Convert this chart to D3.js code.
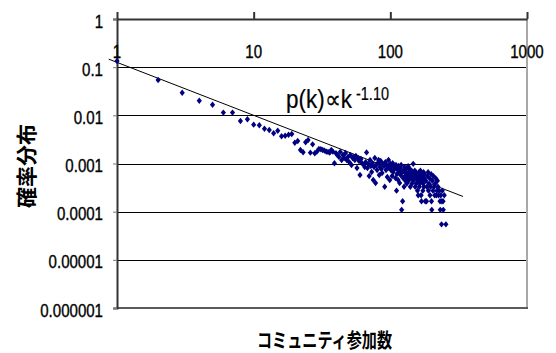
<!DOCTYPE html>
<html>
<head>
<meta charset="utf-8">
<script src="https://cdn.jsdelivr.net/npm/d3@7"></script>
<style>
  html, body { margin: 0; padding: 0; background: #fff; }
  svg { display: block; }
</style>
</head>
<body>
<svg id="chart" width="556" height="353"></svg>
<script>
// Community participation count k and its probability p(k)
const degree = [
  1,2,3,4,5,6,7,8,9,10,11,12,13,14,15,16,17,18,19,20,
  21,22,23,24,25,26,27,28,29,30,31,32,33,34,35,36,37,38,39,40,
  41,42,43,44,45,46,47,48,49,50,51,52,53,54,55,56,57,58,59,60,
  61,62,64,65,66,67,68,69,70,71,72,73,74,75,76,77,78,79,80,
  81,82,83,84,85,86,87,88,90,91,92,93,94,95,96,97,98,99,100,
  101,102,103,104,105,106,108,109,110,111,112,113,114,115,116,117,118,119,120,
  121,122,123,124,125,126,127,128,129,130,131,132,133,134,135,136,137,138,139,140,
  141,142,143,144,145,146,147,148,149,150,151,152,153,154,155,156,157,158,159,160,
  161,162,163,164,165,166,167,168,169,170,171,172,173,174,175,176,177,178,180,
  182,184,185,187,189,190,192,194,195,197,199,200,201,203,205,207,209,211,213,215,
  217,219,221,223,225,228,231,232,234,237,238,240,243,244,248,255
];
const prob = [
  0.134,0.0542,0.0295,0.0201,0.0166,0.0114,0.0114,0.00763,0.00828,0.0064,
  0.00621,0.00528,0.00496,0.00424,0.0048,0.00367,0.00378,0.00396,0.0041,0.0027,
  0.00293,0.00191,0.00171,0.00276,0.00308,0.00168,0.0025,0.00163,0.00176,0.002,
  0.00198,0.00191,0.00185,0.00176,0.00174,0.00168,0.00191,0.00176,0.00101,0.00163,
  0.0015,0.00138,0.00174,0.00118,0.0015,0.0013,0.00165,0.00118,0.00137,0.00107,
  0.0015,0.000931,0.0013,0.00137,0.00118,0.00143,0.000807,0.0013,0.00113,0.000577,
  0.00124,0.00102,0.000931,0.000847,0.00107,0.0017,0.000807,0.000977,0.00055,
  0.00118,0.000888,0.000667,0.00102,0.000455,0.000847,0.0013,0.000394,0.000931,0.000733,
  0.00102,0.00118,0.000577,0.000847,0.00113,0.000769,0.000636,0.000977,0.000888,0.000328,
  0.00107,0.000733,0.000931,0.000525,0.000807,0.00118,0.000888,0.000455,0.000977,
  0.000733,0.000847,0.00055,0.00102,0.000667,0.000888,0.000807,0.0005,0.000931,0.000273,
  0.000606,0.000769,0.000455,0.000888,0.000699,0.000394,0.000807,0.000577,0.000931,
  0.000109,0.000667,0.000164,0.0005,0.000733,0.000328,0.000847,0.00055,0.000437,0.000656,
  0.000765,0.000383,0.000601,0.000492,0.000874,0.000437,0.000656,0.000546,0.000765,0.000328,
  0.000601,0.000492,0.00071,0.000383,0.000546,0.000656,0.000984,0.000437,0.000601,0.000492,
  0.00071,0.000328,0.000546,0.000656,0.000383,0.000492,0.000601,0.000273,0.000546,0.000219,
  0.000437,0.000656,0.000328,0.000546,0.000383,0.00071,0.000492,0.000219,0.000164,0.000601,
  0.000437,0.000546,0.000273,0.000383,0.000656,0.000328,0.000492,0.000601,0.000164,
  0.000437,0.000164,0.000328,0.000546,0.000656,0.000273,0.000383,0.000492,0.000219,0.000328,
  0.000601,0.000164,0.000109,0.000437,0.000273,0.000546,0.000328,0.000219,0.000383,0.000492,
  0.000219,0.000273,0.000437,0.000328,0.000219,0.000273,0.000164,0.000109,0.000219,0.0000546,
  0.000164,0.000273,0.000164,0.000109,0.000219,0.0000546
];

// Axis ticks and labels
const xTicks = [1, 10, 100, 1000];
const xTickLabels = ["1", "10", "100", "1000"];
const yTicks = [1, 0.1, 0.01, 0.001, 0.0001, 0.00001, 0.000001];
const yTickLabels = ["1", "0.1", "0.01", "0.001", "0.0001", "0.00001", "0.000001"];

// Power-law fit p(k) ∝ k^-1.10
const fitExponent = -1.10;
const fitCoef = 0.1259;
const fitRange = [0.87, 340];

const yTitle = "確率分布";
const xTitle = "コミュニティ参加数";
const fitLabel = "p(k)∝k";
const fitLabelSup = "-1.10";

const svg = d3.select("#chart");
const plotL = 117, plotR = 527, plotT = 19, plotB = 308;
const latin = "'Liberation Sans', Arial, sans-serif";
const cjk = "'Noto Sans CJK JP', sans-serif";

const x = d3.scaleLog().domain([1, 1000]).range([plotL, plotR]);
const y = d3.scaleLog().domain([1e-6, 1]).range([plotB, plotT]);

// Narrow the glyphs horizontally like a condensed face
function squeeze(sel, factor) {
  sel.each(function () {
    const w = this.getComputedTextLength();
    d3.select(this).attr("textLength", w * factor).attr("lengthAdjust", "spacingAndGlyphs");
  });
}

// Horizontal gridlines
svg.append("g")
  .selectAll("line")
  .data(yTicks.slice(1, -1))
  .join("line")
  .attr("x1", plotL).attr("x2", plotR)
  .attr("y1", d => Math.round(y(d)) + 0.5).attr("y2", d => Math.round(y(d)) + 0.5)
  .attr("stroke", "#000").attr("stroke-width", 1);

// Plot frame: right and bottom edges
svg.append("line").attr("x1", plotR).attr("x2", plotR).attr("y1", plotT).attr("y2", plotB + 1)
  .attr("stroke", "#a8a8a8").attr("stroke-width", 2);
svg.append("line").attr("x1", plotL).attr("x2", plotR + 1).attr("y1", plotB).attr("y2", plotB)
  .attr("stroke", "#5a5a5a").attr("stroke-width", 2);

// Y axis on the left
const yAxis = d3.axisLeft(y).tickValues(yTicks).tickSize(4).tickFormat("");
const gy = svg.append("g").attr("transform", `translate(${plotL},0)`).call(yAxis);
gy.select(".domain").attr("stroke", "#333").attr("stroke-width", 2);
gy.selectAll(".tick line").attr("stroke", "#777");

// X axis along the top
const xAxis = d3.axisTop(x).tickValues(xTicks).tickSize(7).tickSizeOuter(0).tickFormat("");
const gx = svg.append("g").attr("transform", `translate(0,${plotT})`).call(xAxis);
gx.select(".domain").attr("stroke", "#333").attr("stroke-width", 2);
gx.selectAll(".tick line").attr("stroke", "#333").attr("stroke-width", 2);

// Tick labels
const yl = svg.append("g").selectAll("text")
  .data(yTicks)
  .join("text")
  .attr("x", 103)
  .attr("y", d => y(d) + 8.5)
  .attr("text-anchor", "end")
  .attr("font-family", latin)
  .attr("font-size", 17.5)
  .attr("fill", "#000")
  .attr("stroke", "#000").attr("stroke-width", 0.35)
  .text((d, i) => yTickLabels[i]);
squeeze(yl, 0.86);

const xl = svg.append("g").selectAll("text")
  .data(xTicks)
  .join("text")
  .attr("x", d => x(d))
  .attr("y", 57.5)
  .attr("text-anchor", "middle")
  .attr("font-family", latin)
  .attr("font-size", 17.5)
  .attr("fill", "#000")
  .attr("stroke", "#000").attr("stroke-width", 0.35)
  .text((d, i) => xTickLabels[i]);
squeeze(xl, 0.86);

// Fitted power-law line
const fitLine = d3.line().x(d => x(d)).y(d => y(fitCoef * Math.pow(d, fitExponent)));
svg.append("path")
  .datum(fitRange)
  .attr("d", fitLine)
  .attr("fill", "none")
  .attr("stroke", "#000")
  .attr("stroke-width", 1);

// Data points as small diamonds
const points = degree.map((k, i) => ({ k, p: prob[i] }));
svg.append("g")
  .selectAll("path")
  .data(points)
  .join("path")
  .attr("transform", d => `translate(${x(d.k)},${y(d.p)})`)
  .attr("d", "M0,-3.2L2.6,0L0,3.2L-2.6,0Z")
  .attr("fill", "#000080");

// Fit annotation and its exponent
svg.append("text")
  .attr("x", 286).attr("y", 108)
  .attr("font-family", latin).attr("font-size", 25)
  .attr("fill", "#000")
  .attr("stroke", "#000").attr("stroke-width", 0.2)
  .attr("textLength", 66).attr("lengthAdjust", "spacingAndGlyphs")
  .text(fitLabel);
svg.append("text")
  .attr("x", 356).attr("y", 100)
  .attr("font-family", latin).attr("font-size", 17.5)
  .attr("fill", "#000")
  .attr("stroke", "#000").attr("stroke-width", 0.2)
  .attr("textLength", 33).attr("lengthAdjust", "spacingAndGlyphs")
  .text(fitLabelSup);

// Axis titles
svg.append("text")
  .attr("transform", "translate(25,166) rotate(-90)")
  .attr("text-anchor", "middle")
  .attr("dominant-baseline", "central")
  .attr("font-family", cjk).attr("font-size", 21).attr("font-weight", "bold")
  .attr("fill", "#000")
  .text(yTitle);

svg.append("text")
  .attr("x", 257).attr("y", 347.5)
  .attr("font-family", cjk).attr("font-size", 20).attr("font-weight", "bold")
  .attr("fill", "#000")
  .attr("textLength", 135).attr("lengthAdjust", "spacingAndGlyphs")
  .text(xTitle);
</script>
</body>
</html>
